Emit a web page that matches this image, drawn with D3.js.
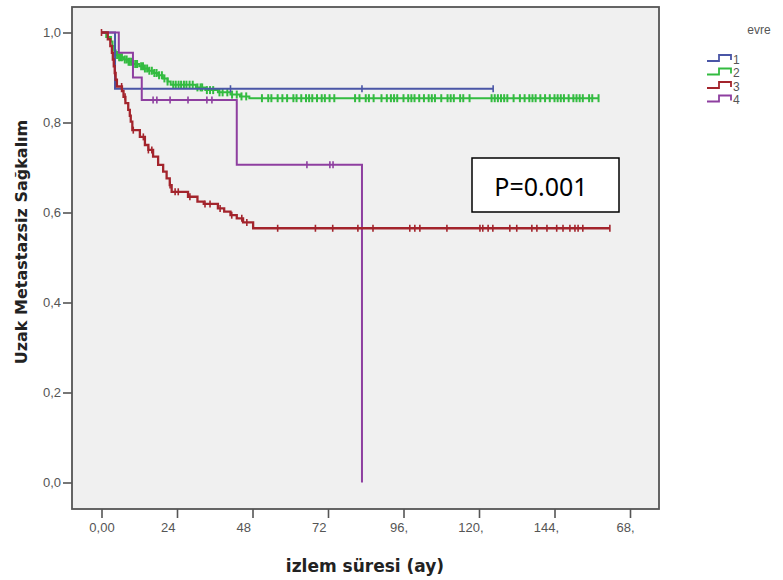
<!DOCTYPE html>
<html><head><meta charset="utf-8">
<script src="https://cdn.jsdelivr.net/npm/d3@7"></script>
<style>body{margin:0;background:#fff}svg{display:block}</style>
</head><body>
<svg id="chart" width="783" height="580"></svg>
<script>
// ---------- data ----------
const groups = ["1", "2", "3", "4"];
const groupColors = ["#4a56a6", "#33bb40", "#a3242c", "#8e3fa0"];
const legendTitle = "evre";
const xTickValues = [0, 24, 48, 72, 96, 120, 144, 168];
const xTickLabels = ["0,00", "24", "48", "72", "96,", "120,", "144,", "68,"];
const yTickValues = [0, 0.2, 0.4, 0.6, 0.8, 1.0];
const yTickLabels = ["0,0", "0,2", "0,4", "0,6", "0,8", "1,0"];
const xTitle = "izlem süresi (ay)";
const yTitle = "Uzak Metastazsiz Sağkalım";
const pText = "P=0.001";

// event times (months) and survival after each event
const g1Times = [4.3];
const g1Surv  = [0.875];
const g1End = 124.5;
const g1Censor = [41, 82.8, 124.5];

const g2Times = [1.5, 3, 3.5, 4, 4.5, 5.5, 7, 8.5, 10, 12, 13.5, 15, 16.5, 18, 19.5, 21, 22, 30, 33, 37, 41, 44, 47];
const g2Surv  = [0.99, 0.98, 0.97, 0.96, 0.95, 0.945, 0.94, 0.935, 0.93, 0.925, 0.92, 0.915, 0.91, 0.905, 0.898, 0.891, 0.884, 0.878, 0.872, 0.867, 0.862, 0.858, 0.854];
const g2End = 158;
const g2Censor = [4.5, 5, 5.6, 6, 6.5, 7.4, 8, 8.6, 9, 9.5, 10.2, 10.8, 11.3, 12.6, 13.2, 13.8, 14.5, 15.2, 16, 16.8, 17.5, 18.3, 19.2, 20, 21, 22.8, 23.6, 24.5, 25.3, 26.2, 27, 28, 29, 30.5, 31.5, 32, 33.5, 34.5, 35.5, 37.5, 38.5, 40, 41.5, 43, 44.5, 46,
  51, 53, 54, 56, 57.5, 59, 61, 62, 63.5, 65, 66, 67, 68.5, 70, 71, 72.5, 74, 80.6, 82, 84, 85, 86.5, 89, 90.7, 92, 93, 94, 96, 97.5, 98.5, 99.5, 101, 102.5, 104, 105, 106, 108, 110, 111, 112, 114, 115, 117,
  124, 125, 126, 127, 128, 129, 131, 133, 134.5, 136, 137, 138, 139.5, 141, 142.5, 144, 145, 146, 147, 148.5, 150, 151, 152, 153, 155, 156, 158];

const g3Times = [2.0, 2.8, 3.3, 3.6, 3.9, 4.2, 4.5, 4.9, 6.5, 7.0, 7.6, 8.5, 9.0, 9.3, 9.8, 12.2, 13.8, 14.9, 16.4, 18.0, 19.6, 20.7, 21.7, 22.3, 27.5, 30.5, 32.5, 37, 39, 41, 43, 45, 48.2];
const g3Surv  = [0.985, 0.97, 0.955, 0.94, 0.925, 0.91, 0.895, 0.88, 0.87, 0.857, 0.843, 0.828, 0.815, 0.802, 0.783, 0.768, 0.75, 0.739, 0.724, 0.706, 0.691, 0.676, 0.661, 0.646, 0.635, 0.624, 0.619, 0.609, 0.602, 0.594, 0.587, 0.578, 0.565];
const g3End = 161.6;
const g3Censor = [0, 4.3, 6.4, 7.5, 10.1, 13.3, 14.9, 16, 21.8, 23.4, 24.4, 28.1, 32.9, 34.5, 37.7, 41.4, 44.6, 46.2,
  56, 68, 73.5, 81.5, 86.3, 98, 99.6, 101.2, 109.8, 120.3, 121.2, 122.9, 124.4, 129.8, 132, 136.8, 138.4, 141.6, 144.7, 146.7, 148.9, 150.5, 151.5, 153, 161.6];

const g4Times = [5.5, 10, 12.8, 43, 82.8];
const g4Surv  = [0.955, 0.90, 0.85, 0.706, 0];
const g4End = 82.8;
const g4Censor = [16.4, 17.6, 21.8, 27.5, 33.5, 35.1, 65.3, 72.6, 73.6];

const series = [
  {times: g1Times, surv: g1Surv, end: g1End, censor: g1Censor},
  {times: g2Times, surv: g2Surv, end: g2End, censor: g2Censor},
  {times: g3Times, surv: g3Surv, end: g3End, censor: g3Censor},
  {times: g4Times, surv: g4Surv, end: g4End, censor: g4Censor}
];

// ---------- layout ----------
const svg = d3.select("#chart");
const frame = {left: 72, top: 7, right: 659, bottom: 509};
const x = d3.scaleLinear().domain([0, 168]).range([101.5, 630]);
const y = d3.scaleLinear().domain([0, 1]).range([482.5, 32.5]);

svg.append("rect").attr("x", frame.left).attr("y", frame.top)
  .attr("width", frame.right - frame.left).attr("height", frame.bottom - frame.top)
  .attr("fill", "#f0f0f0");

function survAt(s, t) {
  let v = 1;
  for (let i = 0; i < s.times.length; i++) { if (s.times[i] <= t) v = s.surv[i]; }
  return v;
}

const line = d3.line().x(d => x(d[0])).y(d => y(d[1])).curve(d3.curveStepAfter);

const order = [1, 0, 3, 2];
order.forEach(gi => {
  const s = series[gi];
  const pts = [[0, 1]];
  s.times.forEach((t, i) => pts.push([t, s.surv[i]]));
  if (s.end > s.times[s.times.length - 1]) pts.push([s.end, s.surv[s.surv.length - 1]]);
  const g = svg.append("g");
  g.append("path").attr("d", line(pts)).attr("fill", "none")
    .attr("stroke", groupColors[gi]).attr("stroke-width", gi === 2 ? 2.3 : 2);
  const h = gi === 1 ? 4 : 3.5;
  g.selectAll("line.c").data(s.censor).enter().append("line")
    .attr("x1", d => x(d)).attr("x2", d => x(d))
    .attr("y1", d => y(survAt(s, d)) - h).attr("y2", d => y(survAt(s, d)) + h)
    .attr("stroke", groupColors[gi]).attr("stroke-width", gi === 1 ? 2 : 1.6);
});

// frame
svg.append("rect").attr("x", frame.left).attr("y", frame.top)
  .attr("width", frame.right - frame.left).attr("height", frame.bottom - frame.top)
  .attr("fill", "none").attr("stroke", "#555").attr("stroke-width", 1.8);

// y axis
const yAxis = svg.append("g").attr("transform", `translate(${frame.left},0)`)
  .call(d3.axisLeft(y).tickValues(yTickValues).tickSize(9)
    .tickFormat((d, i) => yTickLabels[i]));
yAxis.select(".domain").remove();
yAxis.selectAll(".tick line").attr("stroke", "#555").attr("stroke-width", 1.6);
yAxis.selectAll(".tick text").attr("fill", "#555").attr("font-family", "Liberation Sans, Arial, sans-serif")
  .attr("font-size", 13).attr("x", -11);

// x axis
const xAxis = svg.append("g").attr("transform", `translate(0,${frame.bottom})`)
  .call(d3.axisBottom(x).tickValues(xTickValues).tickSize(9)
    .tickFormat((d, i) => xTickLabels[i]));
xAxis.select(".domain").remove();
xAxis.selectAll(".tick line").attr("stroke", "#555").attr("stroke-width", 1.6);
xAxis.selectAll(".tick text").attr("fill", "#555").attr("font-family", "Liberation Sans, Arial, sans-serif")
  .attr("font-size", 13).attr("y", 14)
  .attr("text-anchor", (d, i) => i === 0 ? "middle" : "end")
  .attr("dx", (d, i) => i === 0 ? 0 : (xTickLabels[i].endsWith(",") ? 4 : -2));

// titles
svg.append("text").attr("x", 365).attr("y", 572).attr("text-anchor", "middle")
  .attr("font-family", "DejaVu Sans, sans-serif").attr("font-weight", "bold").attr("font-size", 17)
  .attr("fill", "#222").text(xTitle);
svg.append("text").attr("transform", "translate(27,242) rotate(-90)").attr("text-anchor", "middle")
  .attr("font-family", "DejaVu Sans, sans-serif").attr("font-weight", "bold").attr("font-size", 16)
  .attr("fill", "#222").text(yTitle);

// P box
svg.append("rect").attr("x", 472).attr("y", 158).attr("width", 147).attr("height", 54)
  .attr("fill", "#fff").attr("stroke", "#000").attr("stroke-width", 1.5);
svg.append("text").attr("x", 541).attr("y", 196).attr("text-anchor", "middle")
  .attr("font-family", "Noto Sans, sans-serif").attr("font-size", 25).attr("fill", "#000").text(pText);

// legend
const leg = svg.append("g");
leg.append("text").attr("x", 759).attr("y", 34).attr("text-anchor", "middle")
  .attr("font-family", "Liberation Sans, Arial, sans-serif").attr("font-size", 12).attr("fill", "#555").text(legendTitle);
groups.forEach((gname, i) => {
  const yy = 59 + i * 13.5;
  leg.append("path")
    .attr("d", `M707,${yy + 2}H719V${yy - 4}H731V${yy + 1}`)
    .attr("fill", "none").attr("stroke", groupColors[i]).attr("stroke-width", 1.8);
  leg.append("text").attr("x", 733).attr("y", yy + 4.5)
    .attr("font-family", "Liberation Sans, Arial, sans-serif").attr("font-size", 12).attr("fill", "#555").text(gname);
});
</script>
</body></html>
